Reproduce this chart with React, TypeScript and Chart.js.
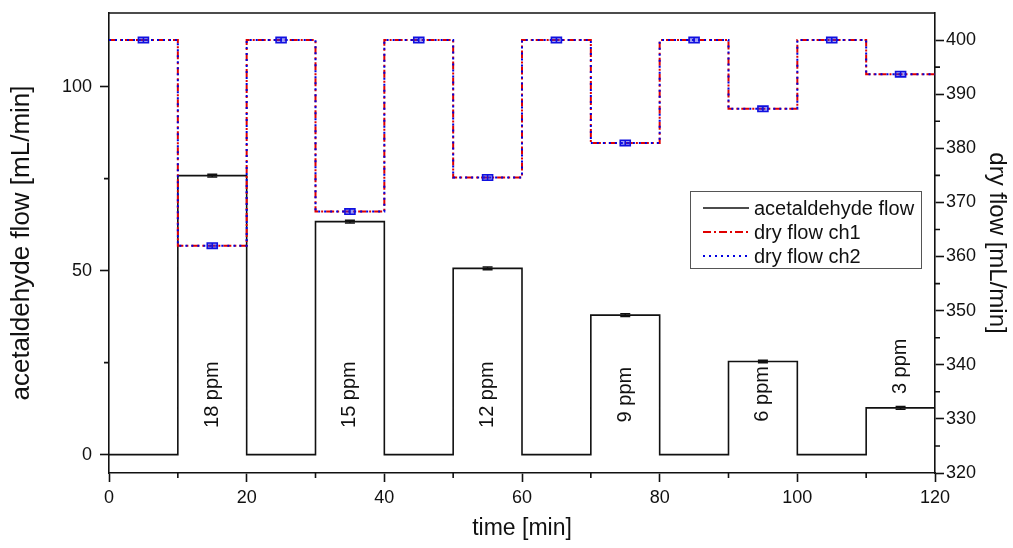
import React, { useEffect, useRef } from 'react';
import { Chart, registerables } from 'chart.js';

Chart.register(...registerables);

// ---------- data ----------
const segmentStarts = [0, 10, 20, 30, 40, 50, 60, 70, 80, 90, 100, 110];
const segmentWidth = 10;
const acetaldehydeFlow = [0, 75.8, 0, 63.3, 0, 50.6, 0, 37.9, 0, 25.3, 0, 12.7];
const acetaldehydeErr = [0, 0.35, 0, 0.35, 0, 0.35, 0, 0.35, 0, 0.35, 0, 0.35];
const dryFlowCh1 = [400, 362, 400, 368.3, 400, 374.6, 400, 381, 400, 387.3, 400, 393.7];
const dryFlowCh2 = [400, 362, 400, 368.3, 400, 374.6, 400, 381, 400, 387.3, 400, 393.7];
const dryFlowErr = [0.5, 0.5, 0.5, 0.5, 0.5, 0.5, 0.5, 0.5, 0.5, 0.5, 0.5, 0.5];
const ppmLabels = ['18 ppm', '15 ppm', '12 ppm', '9 ppm', '6 ppm', '3 ppm'];
const ppmLabelX = [15, 35, 55, 75, 95, 115];
const ppmLabelY = [16.3, 16.3, 16.3, 16.3, 16.5, 24];
const xTicks = [0, 20, 40, 60, 80, 100, 120];
const xMinorTicks = [10, 30, 50, 70, 90, 110];
const leftTicks = [0, 50, 100];
const leftMinorTicks = [25, 75];
const rightTicks = [320, 330, 340, 350, 360, 370, 380, 390, 400];
const rightMinorTicks = [325, 335, 345, 355, 365, 375, 385, 395];
const seriesNames = ['acetaldehyde flow', 'dry flow ch1', 'dry flow ch2'];

const FONT = "'Liberation Sans', Arial, sans-serif";
const INK = '#111';
const RED_DASH = [8, 3, 2, 3];
const BLUE_DASH = [2, 4];

function stepPoints(values: number[]) {
  const pts: { x: number; y: number }[] = [];
  values.forEach((v, i) => {
    pts.push({ x: segmentStarts[i], y: v });
    pts.push({ x: segmentStarts[i] + segmentWidth, y: v });
  });
  return pts;
}

const overlayPlugin = {
  id: 'overlay',
  afterDatasetsDraw(chart: any) {
    const { ctx, chartArea, scales } = chart;
    const x = scales.x;
    const y = scales.y;
    const y2 = scales.y2;
    ctx.save();

    // error bars - dry flow (blue)
    ctx.strokeStyle = '#1010e0';
    ctx.fillStyle = 'rgba(40,40,230,0.45)';
    ctx.lineWidth = 1.6;
    ctx.setLineDash([]);
    dryFlowCh2.forEach((v, i) => {
      const px = x.getPixelForValue(segmentStarts[i] + segmentWidth / 2);
      const pt = y2.getPixelForValue(v + dryFlowErr[i]);
      const pb = y2.getPixelForValue(v - dryFlowErr[i]);
      ctx.beginPath();
      ctx.rect(px - 5, pt, 10, pb - pt);
      ctx.fill();
      ctx.moveTo(px, pt);
      ctx.lineTo(px, pb);
      ctx.stroke();
    });

    // error bars - acetaldehyde (black)
    ctx.strokeStyle = INK;
    ctx.lineWidth = 1.5;
    acetaldehydeFlow.forEach((v, i) => {
      if (v === 0) return;
      const px = x.getPixelForValue(segmentStarts[i] + segmentWidth / 2);
      const pt = y.getPixelForValue(v + acetaldehydeErr[i]);
      const pb = y.getPixelForValue(v - acetaldehydeErr[i]);
      ctx.beginPath();
      ctx.moveTo(px - 5, pt);
      ctx.lineTo(px + 5, pt);
      ctx.moveTo(px - 5, pb);
      ctx.lineTo(px + 5, pb);
      ctx.moveTo(px, pt);
      ctx.lineTo(px, pb);
      ctx.stroke();
    });

    // ppm labels
    ctx.fillStyle = INK;
    ctx.font = `20px ${FONT}`;
    ctx.textAlign = 'center';
    ctx.textBaseline = 'middle';
    ppmLabels.forEach((t, i) => {
      const px = x.getPixelForValue(ppmLabelX[i]);
      const py = y.getPixelForValue(ppmLabelY[i]);
      ctx.save();
      ctx.translate(px, py);
      ctx.rotate(-Math.PI / 2);
      ctx.fillText(t, 0, 0);
      ctx.restore();
    });

    // top frame
    ctx.strokeStyle = INK;
    ctx.lineWidth = 1.6;
    ctx.beginPath();
    ctx.moveTo(chartArea.left, chartArea.top);
    ctx.lineTo(chartArea.right, chartArea.top);
    ctx.stroke();

    // minor ticks
    ctx.beginPath();
    xMinorTicks.forEach((v) => {
      const px = x.getPixelForValue(v);
      ctx.moveTo(px, chartArea.bottom);
      ctx.lineTo(px, chartArea.bottom + 5);
    });
    leftMinorTicks.forEach((v) => {
      const py = y.getPixelForValue(v);
      ctx.moveTo(chartArea.left - 5, py);
      ctx.lineTo(chartArea.left, py);
    });
    rightMinorTicks.forEach((v) => {
      const py = y2.getPixelForValue(v);
      ctx.moveTo(chartArea.right, py);
      ctx.lineTo(chartArea.right + 5, py);
    });
    ctx.stroke();

    // legend
    const lx = 690, ly = 191, lw = 231, lh = 77;
    ctx.fillStyle = '#fff';
    ctx.fillRect(lx, ly, lw, lh);
    ctx.strokeStyle = '#555';
    ctx.lineWidth = 1;
    ctx.strokeRect(lx + 0.5, ly + 0.5, lw, lh);
    const rows = [208, 232, 256];
    const styles = [
      { color: INK, dash: [] as number[] },
      { color: '#e00000', dash: RED_DASH },
      { color: '#0000e0', dash: BLUE_DASH },
    ];
    ctx.font = `20px ${FONT}`;
    ctx.textAlign = 'left';
    ctx.textBaseline = 'middle';
    rows.forEach((ry, i) => {
      ctx.strokeStyle = styles[i].color;
      ctx.lineWidth = i === 0 ? 1.6 : 2;
      ctx.setLineDash(styles[i].dash);
      ctx.beginPath();
      ctx.moveTo(703, ry);
      ctx.lineTo(749, ry);
      ctx.stroke();
      ctx.setLineDash([]);
      ctx.fillStyle = INK;
      ctx.fillText(seriesNames[i], 754, ry + 1);
    });

    ctx.restore();
  },
};

export default function App() {
  const ref = useRef<HTMLCanvasElement | null>(null);

  useEffect(() => {
    document.body.style.margin = '0';
    if (!ref.current) return;
    const tickFont = { family: FONT, size: 18 };
    const chart = new Chart(ref.current, {
      type: 'line',
      data: {
        datasets: [
          {
            label: seriesNames[2],
            data: stepPoints(dryFlowCh2),
            yAxisID: 'y2',
            borderColor: '#0000e0',
            borderWidth: 2,
            borderDash: BLUE_DASH,
            pointRadius: 0,
            fill: false,
          },
          {
            label: seriesNames[1],
            data: stepPoints(dryFlowCh1),
            yAxisID: 'y2',
            borderColor: '#e00000',
            borderWidth: 2,
            borderDash: RED_DASH,
            pointRadius: 0,
            fill: false,
          },
          {
            label: seriesNames[0],
            data: stepPoints(acetaldehydeFlow),
            yAxisID: 'y',
            borderColor: INK,
            borderWidth: 1.6,
            pointRadius: 0,
            fill: false,
          },
        ],
      },
      options: {
        animation: false,
        responsive: false,
        devicePixelRatio: 1,
        layout: { padding: { top: 13, left: 0, right: 0, bottom: 0 } },
        plugins: { legend: { display: false }, tooltip: { enabled: false } },
        scales: {
          x: {
            type: 'linear',
            min: 0,
            max: 120,
            afterBuildTicks: (s: any) => {
              s.ticks = xTicks.map((v) => ({ value: v }));
            },
            afterFit: (s: any) => {
              s.height = 75;
              s.paddingLeft = 0;
              s.paddingRight = 0;
            },
            ticks: { font: tickFont, color: INK, padding: 5, maxRotation: 0 },
            grid: { drawOnChartArea: false, drawTicks: true, tickLength: 9, tickColor: INK, tickWidth: 1.6 },
            border: { display: true, color: INK, width: 1.6 },
            title: { display: true, text: 'time [min]', font: { family: FONT, size: 23 }, color: INK, padding: { top: 0, bottom: 6 } },
          },
          y: {
            type: 'linear',
            position: 'left',
            min: -5,
            max: 120,
            afterBuildTicks: (s: any) => {
              s.ticks = leftTicks.map((v) => ({ value: v }));
            },
            afterFit: (s: any) => {
              s.width = 109;
              s.paddingTop = 0;
              s.paddingBottom = 0;
            },
            ticks: { font: tickFont, color: INK, padding: 8 },
            grid: { drawOnChartArea: false, drawTicks: true, tickLength: 9, tickColor: INK, tickWidth: 1.6 },
            border: { display: true, color: INK, width: 1.6 },
            title: { display: true, text: 'acetaldehyde flow [mL/min]', font: { family: FONT, size: 26 }, color: INK, padding: { top: 6, bottom: 0 } },
          },
          y2: {
            type: 'linear',
            position: 'right',
            min: 320,
            max: 405,
            afterBuildTicks: (s: any) => {
              s.ticks = rightTicks.map((v) => ({ value: v }));
            },
            afterFit: (s: any) => {
              s.width = 78;
              s.paddingTop = 0;
              s.paddingBottom = 0;
            },
            ticks: { font: tickFont, color: INK, padding: 2 },
            grid: { drawOnChartArea: false, drawTicks: true, tickLength: 9, tickColor: INK, tickWidth: 1.6 },
            border: { display: true, color: INK, width: 1.6 },
            title: { display: true, text: 'dry flow [mL/min]', font: { family: FONT, size: 24 }, color: INK, padding: { top: 2, bottom: 0 } },
          },
        },
      },
      plugins: [overlayPlugin],
    } as any);
    return () => chart.destroy();
  }, []);

  return (
    <div style={{ position: 'absolute', left: 0, top: 0, width: 1013, height: 548, background: '#fff' }}>
      <canvas ref={ref} width={1013} height={548} />
    </div>
  );
}
